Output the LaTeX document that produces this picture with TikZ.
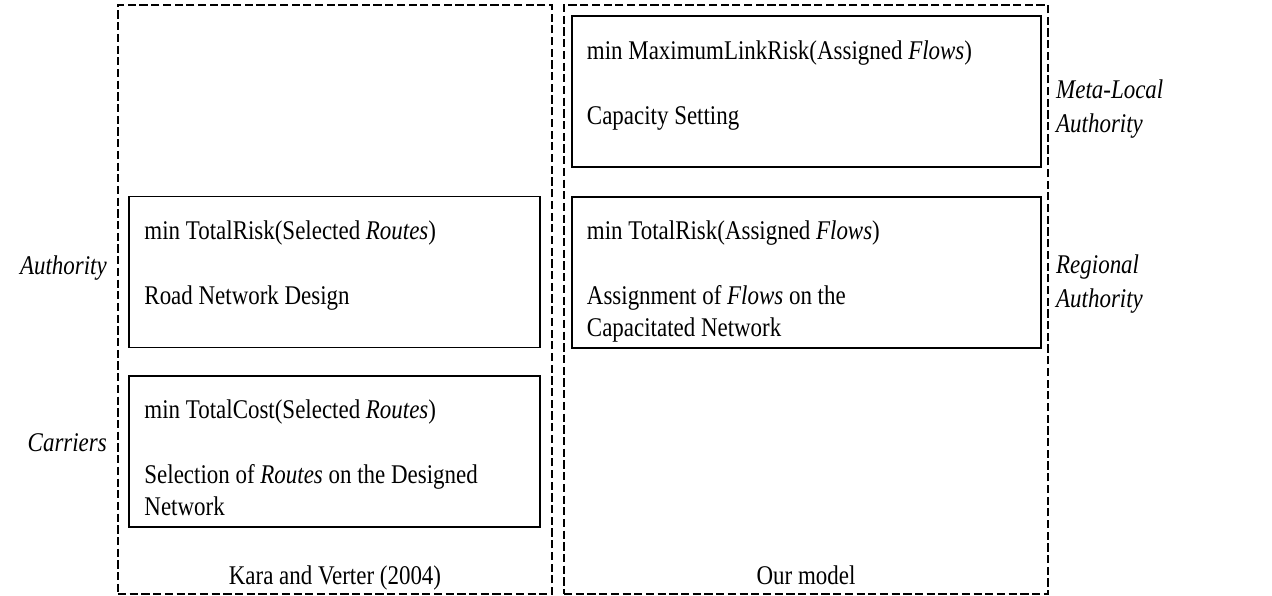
\documentclass[tikz,border=0pt]{standalone}
\usepackage{fontspec}
\setmainfont[FakeStretch=0.85]{Liberation Serif}
\usetikzlibrary{positioning}

\begin{document}
\begin{tikzpicture}[x=1pt, y=-1pt,
  panel/.style={draw, line width=2.8pt, dash pattern=on 8.2pt off 3.5pt, minimum height=589pt},
  level/.style={draw, line width=1.5pt, minimum height=151pt},
  txt/.style={inner sep=0pt, align=left, anchor=base west, font=\fontsize{27}{32}\selectfont},
  side/.style={inner sep=0pt, align=left, font=\fontsize{27}{34}\selectfont\itshape}]

  \useasboundingbox (0,0) rectangle (1272,596);

  % Panels
  \node[panel, minimum width=434pt] (kv) at (335,299.5) {};
  \node[panel, minimum width=484pt] (our) at (806,299.5) {};

  % Left column
  \node[level, minimum width=411pt] (kv1) at (334.5,272) {};
  \node[level, minimum width=411pt] (kv2) at (334.5,451.5) {};

  % Right column
  \node[level, minimum width=469pt] (our1) at (806.5,91.5) {};
  \node[level, minimum width=469pt] (our2) at (806.5,272.5) {};

  % Texts in blocks (anchored on the last line)
  \node[txt] (kv1t) at ([shift={(16,109)}]kv1.north west)
    {min TotalRisk(Selected \textit{Routes})\\[33pt] Road Network Design};
  \node[txt] (kv2t) at ([shift={(16,140)}]kv2.north west)
    {min TotalCost(Selected \textit{Routes})\\[33pt] Selection of \textit{Routes} on the Designed\\ Network};
  \node[txt] (our1t) at ([shift={(15.5,109)}]our1.north west)
    {min MaximumLinkRisk(Assigned \textit{Flows})\\[33pt] Capacity Setting};
  \node[txt] (our2t) at ([shift={(15.5,140)}]our2.north west)
    {min TotalRisk(Assigned \textit{Flows})\\[33pt] Assignment of \textit{Flows} on the\\ Capacitated Network};

  % Captions
  \node[txt, anchor=base] (kvc) at ([yshift=11pt]kv.south) {Kara and Verter (2004)};
  \node[txt, anchor=base] (ourc) at ([yshift=11pt]our.south) {Our model};

  % Side labels
  \node[side, anchor=base east] (auth) at (107,275) {Authority};
  \node[side, anchor=base east] (carr) at (107,451) {Carriers};
  \node[side, anchor=base west] (meta) at (1056,133) {Meta-Local\\Authority};
  \node[side, anchor=base west] (reg) at (1056,307) {Regional\\Authority};

\end{tikzpicture}
\end{document}
